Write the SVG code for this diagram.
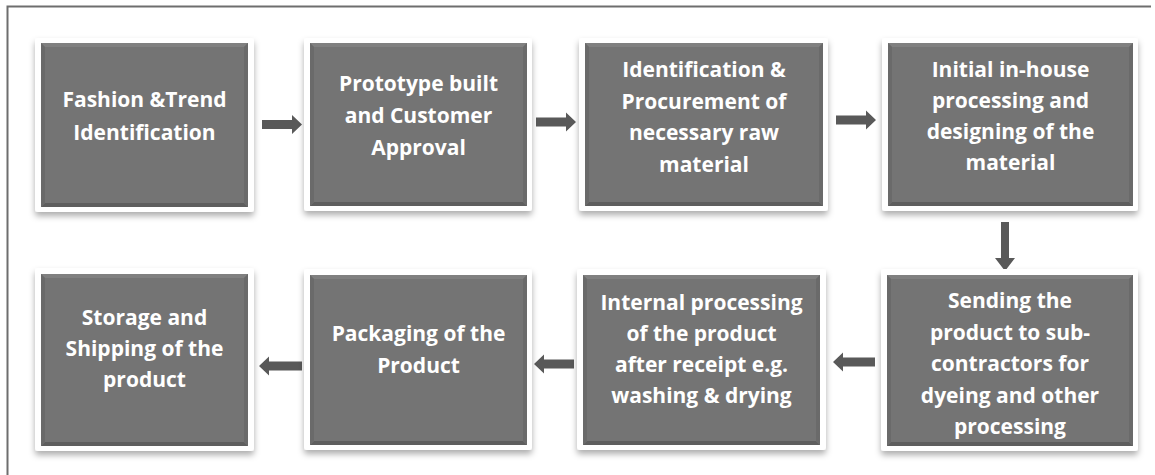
<svg xmlns="http://www.w3.org/2000/svg" width="1155" height="475" viewBox="0 0 1155 475">
<defs>
<filter id="sh" x="-10%" y="-10%" width="120%" height="125%">
<feDropShadow dx="0" dy="4" stdDeviation="3" flood-color="#000" flood-opacity="0.32"/>
</filter>
<style>
.frame{fill:#fff;filter:url(#sh)}
.body{fill:#747474}
.bt{fill:#808080}
.bb{fill:#5e5e5e}
.bs{fill:#6a6a6a}
.t{font-family:"Open Sans","Lato","DejaVu Sans",sans-serif;font-weight:bold;font-size:21px;fill:#fff;text-anchor:middle}
.arr{fill:#595959}
.border{stroke:#6e6e6e;stroke-width:2;fill:none}
</style>
</defs>
<rect width="1155" height="475" fill="#fff"/>
<path class="border" d="M7.5,475 V6.5 H1151"/>

<g id="connectors">
<polygon class="arr" points="262,120 292,120 292,115 302,124.5 292,134 292,129 262,129"/>
<polygon class="arr" points="536,117.5 566,117.5 566,112.5 576,122 566,131.5 566,126.5 536,126.5"/>
<polygon class="arr" points="836,115.5 866,115.5 866,110.5 876,120 866,129.5 866,124.5 836,124.5"/>
<polygon class="arr" points="1001,222 1009,222 1009,258 1015,258 1005,271 995,258 1001,258"/>
<polygon class="arr" points="875,357.5 843,357.5 843,352.5 833,362 843,371.5 843,366.5 875,366.5"/>
<polygon class="arr" points="574,359.5 544,359.5 544,354.5 534,364 544,373.5 544,368.5 574,368.5"/>
<polygon class="arr" points="302,361.5 269,361.5 269,356.5 259,366 269,375.5 269,370.5 302,370.5"/>
</g>

<g id="n1">
<rect class="frame" x="35" y="38" width="219" height="174" rx="3"/>
<rect class="body" x="41" y="43" width="207" height="164"/>
<polygon class="bt" points="41,43 248,43 244,47 45,47"/>
<polygon class="bb" points="41,207 248,207 244,203 45,203"/>
<polygon class="bs" points="41,43 45,47 45,203 41,207"/>
<polygon class="bs" points="248,43 244,47 244,203 248,207"/>
<text class="t" x="144.5" y="107">Fashion &amp;Trend</text>
<text class="t" x="144.5" y="140">Identification</text>
</g>

<g id="n2">
<rect class="frame" x="304" y="38" width="228" height="173" rx="3"/>
<rect class="body" x="310" y="43" width="217" height="163"/>
<polygon class="bt" points="310,43 527,43 523,47 314,47"/>
<polygon class="bb" points="310,206 527,206 523,202 314,202"/>
<polygon class="bs" points="310,43 314,47 314,202 310,206"/>
<polygon class="bs" points="527,43 523,47 523,202 527,206"/>
<text class="t" x="418.5" y="91">Prototype built</text>
<text class="t" x="418.5" y="123">and Customer</text>
<text class="t" x="418.5" y="155">Approval</text>
</g>

<g id="n3">
<rect class="frame" x="579" y="38" width="249" height="173" rx="3"/>
<rect class="body" x="585" y="43" width="238" height="163"/>
<polygon class="bt" points="585,43 823,43 819,47 589,47"/>
<polygon class="bb" points="585,206 823,206 819,202 589,202"/>
<polygon class="bs" points="585,43 589,47 589,202 585,206"/>
<polygon class="bs" points="823,43 819,47 819,202 823,206"/>
<text class="t" x="704" y="77">Identification &amp;</text>
<text class="t" x="704" y="108.5">Procurement of</text>
<text class="t" x="704" y="140">necessary raw</text>
<text class="t" x="704" y="171.5">material</text>
</g>

<g id="n4">
<rect class="frame" x="882" y="38" width="256" height="173" rx="3"/>
<rect class="body" x="888" y="43" width="245" height="163"/>
<polygon class="bt" points="888,43 1133,43 1129,47 892,47"/>
<polygon class="bb" points="888,206 1133,206 1129,202 892,202"/>
<polygon class="bs" points="888,43 892,47 892,202 888,206"/>
<polygon class="bs" points="1133,43 1129,47 1129,202 1133,206"/>
<text class="t" x="1010.5" y="77">Initial in-house</text>
<text class="t" x="1010.5" y="108">processing and</text>
<text class="t" x="1010.5" y="139">designing of the</text>
<text class="t" x="1010.5" y="170">material</text>
</g>

<g id="n5">
<rect class="frame" x="881" y="269" width="257" height="182" rx="3"/>
<rect class="body" x="887" y="275" width="246" height="171"/>
<polygon class="bt" points="887,275 1133,275 1129,279 891,279"/>
<polygon class="bb" points="887,446 1133,446 1129,442 891,442"/>
<polygon class="bs" points="887,275 891,279 891,442 887,446"/>
<polygon class="bs" points="1133,275 1129,279 1129,442 1133,446"/>
<text class="t" x="1010" y="308">Sending the</text>
<text class="t" x="1010" y="339.5">product to sub-</text>
<text class="t" x="1010" y="371">contractors for</text>
<text class="t" x="1010" y="402.5">dyeing and other</text>
<text class="t" x="1010" y="434">processing</text>
</g>

<g id="n6">
<rect class="frame" x="577" y="269" width="249" height="181" rx="3"/>
<rect class="body" x="583" y="275" width="237" height="170"/>
<polygon class="bt" points="583,275 820,275 816,279 587,279"/>
<polygon class="bb" points="583,445 820,445 816,441 587,441"/>
<polygon class="bs" points="583,275 587,279 587,441 583,445"/>
<polygon class="bs" points="820,275 816,279 816,441 820,445"/>
<text class="t" x="701.5" y="310">Internal processing</text>
<text class="t" x="701.5" y="341">of the product</text>
<text class="t" x="701.5" y="372">after receipt e.g.</text>
<text class="t" x="701.5" y="403">washing &amp; drying</text>
</g>

<g id="n7">
<rect class="frame" x="304" y="269" width="228" height="181" rx="3"/>
<rect class="body" x="310" y="275" width="217" height="170"/>
<polygon class="bt" points="310,275 527,275 523,279 314,279"/>
<polygon class="bb" points="310,445 527,445 523,441 314,441"/>
<polygon class="bs" points="310,275 314,279 314,441 310,445"/>
<polygon class="bs" points="527,275 523,279 523,441 527,445"/>
<text class="t" x="418.5" y="341">Packaging of the</text>
<text class="t" x="418.5" y="373">Product</text>
</g>

<g id="n8">
<rect class="frame" x="35" y="268" width="219" height="183" rx="3"/>
<rect class="body" x="41" y="274" width="207" height="172"/>
<polygon class="bt" points="41,274 248,274 244,278 45,278"/>
<polygon class="bb" points="41,446 248,446 244,442 45,442"/>
<polygon class="bs" points="41,274 45,278 45,442 41,446"/>
<polygon class="bs" points="248,274 244,278 244,442 248,446"/>
<text class="t" x="144.5" y="325">Storage and</text>
<text class="t" x="144.5" y="356">Shipping of the</text>
<text class="t" x="144.5" y="387">product</text>
</g>
</svg>
